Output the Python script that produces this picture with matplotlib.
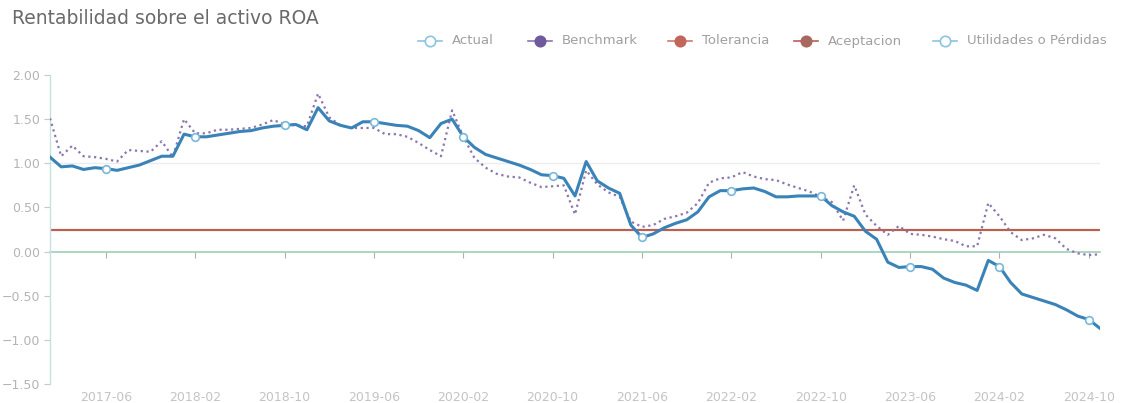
import numpy as np
import matplotlib
matplotlib.use("Agg")
import matplotlib.pyplot as plt
from matplotlib.lines import Line2D

# Monthly periods 2017-01 .. 2024-11
periods = [f"{y}-{m:02d}" for y in range(2017, 2025) for m in range(1, 13)][:95]

# Actual ROA (%)
actual = [1.07, 0.96, 0.97, 0.93, 0.95, 0.94, 0.92, 0.95, 0.98, 1.03,
          1.08, 1.08, 1.33, 1.30, 1.30, 1.32, 1.34, 1.36, 1.37, 1.40,
          1.42, 1.43, 1.44, 1.38, 1.63, 1.48, 1.43, 1.40, 1.47, 1.47,
          1.45, 1.43, 1.42, 1.37, 1.29, 1.45, 1.50, 1.30, 1.18, 1.10,
          1.06, 1.02, 0.98, 0.93, 0.87, 0.86, 0.83, 0.63, 1.02, 0.80,
          0.72, 0.66, 0.30, 0.16, 0.20, 0.27, 0.32, 0.36, 0.45, 0.62,
          0.69, 0.69, 0.71, 0.72, 0.68, 0.62, 0.62, 0.63, 0.63, 0.63,
          0.52, 0.45, 0.40, 0.23, 0.14, -0.12, -0.18, -0.17, -0.17, -0.20,
          -0.30, -0.35, -0.38, -0.44, -0.10, -0.17, -0.35, -0.48, -0.52, -0.56,
          -0.60, -0.66, -0.73, -0.77, -0.87]

# Benchmark ROA (%)
benchmark = [1.51, 1.08, 1.20, 1.08, 1.07, 1.05, 1.02, 1.15, 1.14, 1.13,
             1.25, 1.07, 1.50, 1.34, 1.34, 1.38, 1.38, 1.39, 1.40, 1.44,
             1.49, 1.44, 1.43, 1.42, 1.79, 1.52, 1.43, 1.40, 1.40, 1.40,
             1.33, 1.33, 1.30, 1.23, 1.15, 1.08, 1.60, 1.30, 1.06, 0.95,
             0.88, 0.85, 0.84, 0.78, 0.73, 0.74, 0.75, 0.42, 0.92, 0.76,
             0.67, 0.62, 0.34, 0.28, 0.30, 0.37, 0.40, 0.44, 0.55, 0.78,
             0.83, 0.84, 0.90, 0.85, 0.82, 0.81, 0.76, 0.72, 0.68, 0.62,
             0.56, 0.35, 0.75, 0.42, 0.29, 0.19, 0.29, 0.20, 0.19, 0.17,
             0.14, 0.12, 0.06, 0.06, 0.55, 0.40, 0.22, 0.13, 0.15, 0.19,
             0.15, 0.03, -0.02, -0.04, -0.03]

tolerancia = [0.25] * len(periods)
aceptacion = [0.25] * len(periods)

y_ticks = [2.0, 1.5, 1.0, 0.5, 0.0, -0.5, -1.0, -1.5]
x_tick_labels = periods[5::8]

legend_labels = ['Actual', 'Benchmark', 'Tolerancia', 'Aceptacion', 'Utilidades o Pérdidas']

plt.rcParams['font.family'] = ['DejaVu Sans']

W, H = 1123, 403
fig = plt.figure(figsize=(W / 100, H / 100), dpi=100)
ax = fig.add_axes([50 / W, 1 - 384 / H, 1050 / W, 309 / H])

x = np.arange(len(periods))

ax.axhline(1.0, color='#ececec', lw=1, zorder=0)

ax.plot(x, tolerancia, color='#d27a6c', lw=1.6, zorder=2)
ax.plot(x, aceptacion, color='#b9604f', lw=1.4, zorder=2)
ax.plot(x, benchmark, color='#8b76ad', lw=1.6, ls=(0, (1, 1.6)), zorder=3)
ax.plot(x, actual, color='#3a83b8', lw=2.2, marker='o', ms=5.5,
        markerfacecolor='white', markeredgecolor='#78b8da', markeredgewidth=1.2,
        markevery=slice(5, None, 8), zorder=4)

ax.set_xlim(0, len(periods) - 1)
ax.set_ylim(-1.5, 2.0)

# zero axis line with month ticks
sec = ax.secondary_xaxis(0.0, transform=ax.transData)
sec.set_xticks(x[5::8])
sec.set_xticklabels([])
sec.spines['bottom'].set_color('#9ccfb8')
sec.spines['bottom'].set_linewidth(1.2)
sec.tick_params(axis='x', length=4, color='#b0b0b0', width=0.8)

ax.set_xticks(x[5::8])
ax.set_xticklabels(x_tick_labels)
ax.tick_params(axis='x', length=0, pad=5, labelsize=9, labelcolor='#c4c4c4')

ax.set_yticks(y_ticks)
ax.set_yticklabels([f"{v:.2f}".replace('-', '\u2212') for v in y_ticks])
ax.tick_params(axis='y', length=4, color='#c8c8c8', labelsize=9,
               labelcolor='#b4b4b4', pad=3)

for side in ['top', 'right', 'bottom']:
    ax.spines[side].set_visible(False)
ax.spines['left'].set_color('#c6e2dc')
ax.spines['left'].set_linewidth(1.0)

fig.text(12 / W, 1 - 18 / H, 'Rentabilidad sobre el activo ROA',
         fontsize=13.5, color='#6a6a6a', va='center', ha='left')

# legend, drawn item by item (ECharts-style: short line with a circle)
leg_marker_x = [430, 540, 680, 806, 945]
leg_line_col = ['#8cc4e0', '#8b76ad', '#d27a6c', '#b9604f', '#8cc4e0']
leg_face = ['white', '#6f5a9c', '#c0665a', '#a8685e', 'white']
leg_edge = ['#8cc4e0', '#6f5a9c', '#c0665a', '#a8685e', '#8cc4e0']
leg_y = 1 - 41 / H
for mx, lab, lc, fc, ec in zip(leg_marker_x, legend_labels, leg_line_col, leg_face, leg_edge):
    fig.add_artist(Line2D([(mx - 12) / W, (mx + 12) / W], [leg_y, leg_y],
                          color=lc, lw=1.2, transform=fig.transFigure))
    fig.add_artist(Line2D([mx / W], [leg_y], marker='o', ms=7.5,
                          markerfacecolor=fc, markeredgecolor=ec, mew=1.2,
                          transform=fig.transFigure))
    fig.text((mx + 22) / W, leg_y, lab, fontsize=9.5, color='#a0a0a0',
             va='center', ha='left')

fig.savefig('out.png', dpi=100)
